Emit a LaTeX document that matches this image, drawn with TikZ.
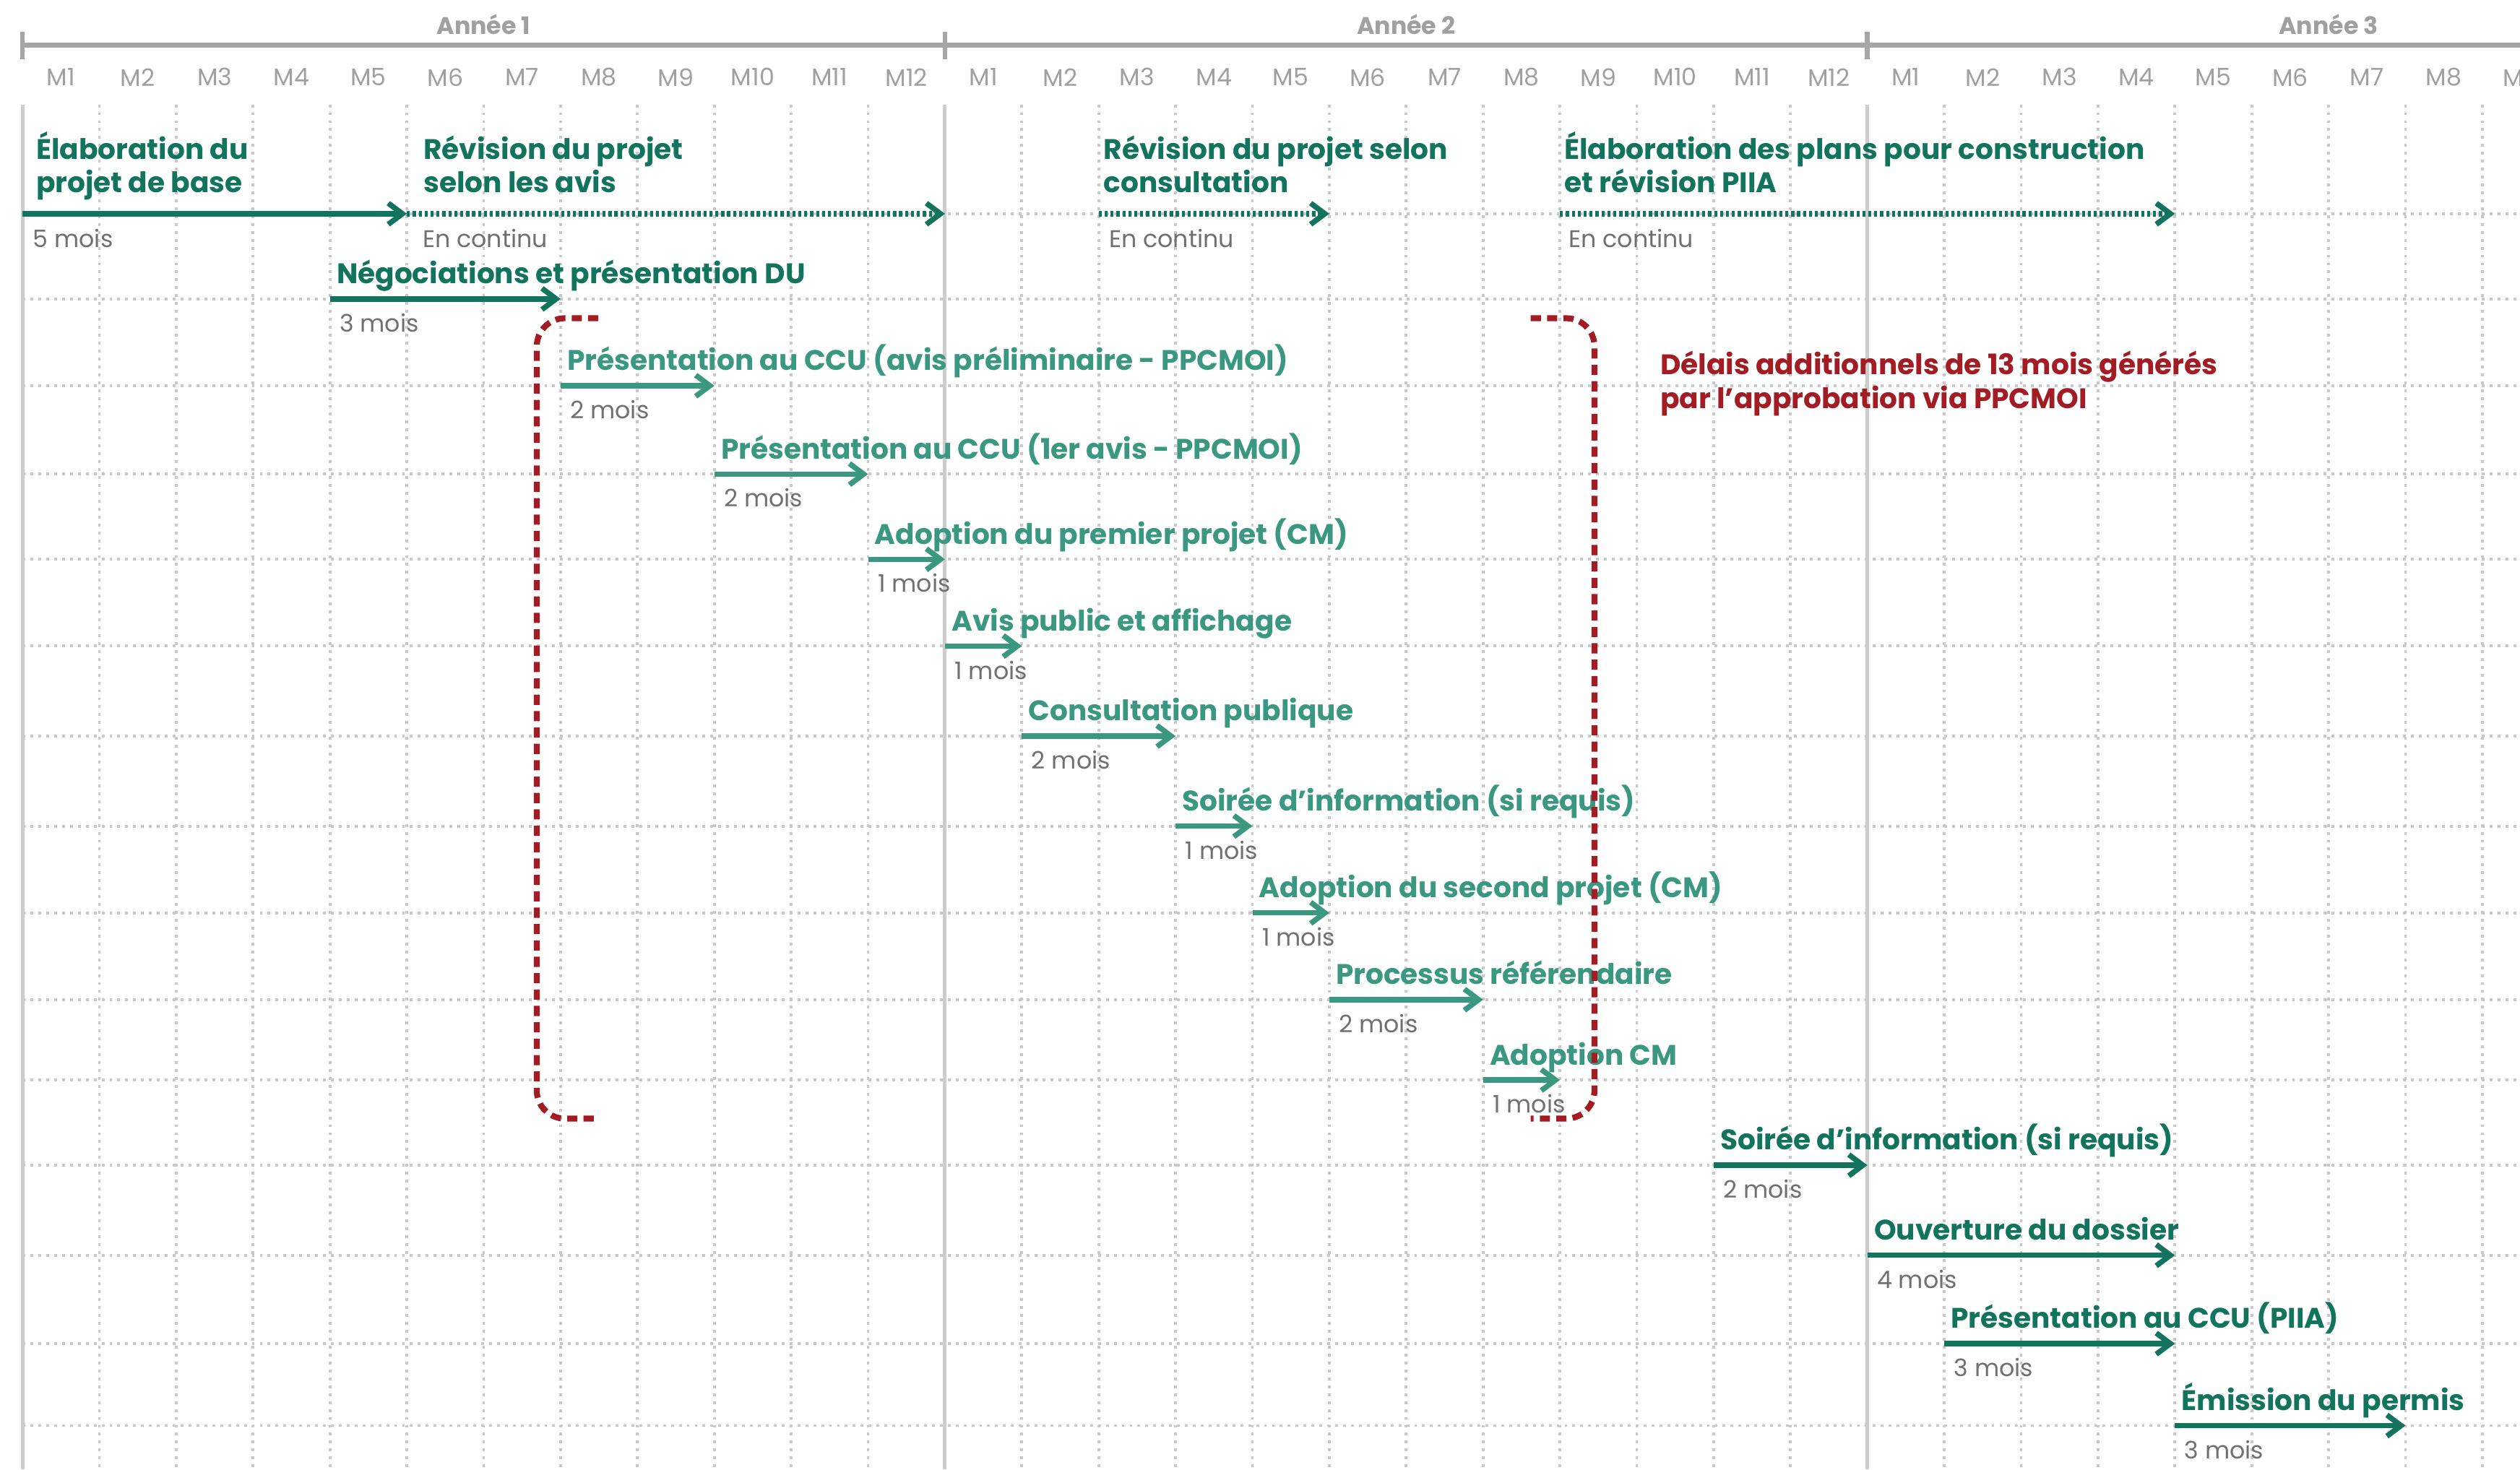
\documentclass[tikz,border=0pt]{standalone}
\usepackage{fontspec}
\setmainfont{Poppins}
\usetikzlibrary{arrows.meta}

\definecolor{vertfonce}{HTML}{13745E}
\definecolor{vertclair}{HTML}{3A9880}
\definecolor{rougebordeaux}{HTML}{A31C24}
\definecolor{grisaxe}{HTML}{A6A6A6}
\definecolor{grismois}{HTML}{A0A0A0}
\definecolor{gristexte}{HTML}{707070}
\definecolor{grisgrille}{HTML}{C8C8C8}
\definecolor{grisannee}{HTML}{CDCDCD}

\begin{document}
\begin{tikzpicture}[x=0.9566cm, y=-0.02cm,
    fleche/.style={line width=1.9pt, -{Straight Barb[length=5pt,width=7.5pt]}},
    continu/.style={fleche, dash pattern=on 1.1pt off 1pt},
    etiquette/.style={anchor=base west, inner sep=0pt, align=left,
      font=\bfseries\fontsize{10}{11.9}\selectfont},
    duree/.style={anchor=base west, inner sep=0pt, text=gristexte,
      font=\fontsize{8.5}{10}\selectfont},
    mois/.style={text=grismois, font=\fontsize{8.5}{10}\selectfont},
    annee/.style={text=grismois, font=\bfseries\fontsize{8.5}{10}\selectfont},
    axe/.style={grisaxe, line width=1.7pt},
    pointille/.style={grisgrille, line width=1pt, dash pattern=on 1pt off 1.8pt},
    anneeligne/.style={grisannee, line width=1.3pt},
    delai/.style={rougebordeaux, line width=2.1pt, dash pattern=on 3.6pt off 2.2pt,
      rounded corners=10pt}]
    % Cadre
    \def\gauche{-0.2927}
    \def\droite{32.49}
    \def\bas{914.4}
    \fill[white] (\gauche,0) rectangle (\droite,\bas);
    \useasboundingbox (\gauche,0) rectangle (\droite,\bas);

    % Grille des mois
    \foreach \m in {1,...,32}
        \draw[pointille] (\m,65) -- (\m,\bas);
    \foreach \y in {133,186,240,295,348,402,458,514,568,622,672,725,781,836,887}
        \draw[pointille] (0,\y) -- (\droite,\y);
    \foreach \a in {0,12,24}
        \draw[anneeligne] (\a,65) -- (\a,\bas);

    % Années
    \draw[axe] (0,28) -- (\droite,28);
    \foreach \a/\k in {0/1,12/2,24/3} {
        \draw[axe] (\a,20) -- (\a,37);
        \node[annee] (an\k) at (\a+6,15) {Année \k};
    }
    \foreach \m in {0,...,32} {
        \pgfmathtruncatemacro{\num}{mod(\m,12)+1}
        \node[mois] (m\m) at (\m+0.5,48) {M\num};
    }

    % Première rangée
    \foreach \n/\d/\f/\st/\xt/\xd/\txt/\dur in {
        a/0/5/fleche/0.17/0.13/{Élaboration du\\projet de base}/5 mois,
        b/5/12/continu/0.21/0.2/{Révision du projet\\selon les avis}/En continu,
        c/14/17/continu/0.06/0.13/{Révision du projet selon\\consultation}/En continu,
        d/20/28/continu/0.05/0.11/{Élaboration des plans pour construction\\et révision PIIA}/En continu} {
        \coordinate (s\n) at (\d,133);
        \coordinate (e\n) at (\f,133);
        \draw[\st, vertfonce] (s\n) -- (e\n);
        \node[etiquette, text=vertfonce] (t\n) at (\d+\xt,120) {\txt};
        \node[duree] (d\n) at (\d+\xd,154) {\dur};
    }

    % Étapes
    \foreach \n/\d/\f/\y/\c/\txt/\dur in {
        1/4/7/186/vertfonce/{Négociations et présentation DU}/3 mois,
        2/7/9/240/vertclair/{Présentation au CCU (avis préliminaire - PPCMOI)}/2 mois,
        3/9/11/295/vertclair/{Présentation au CCU (1er avis - PPCMOI)}/2 mois,
        4/11/12/348/vertclair/{Adoption du premier projet (CM)}/1 mois,
        5/12/13/402/vertclair/{Avis public et affichage}/1 mois,
        6/13/15/458/vertclair/{Consultation publique}/2 mois,
        7/15/16/514/vertclair/{Soirée d’information (si requis)}/1 mois,
        8/16/17/568/vertclair/{Adoption du second projet (CM)}/1 mois,
        9/17/19/622/vertclair/{Processus référendaire}/2 mois,
        10/19/20/672/vertclair/{Adoption CM}/1 mois,
        11/22/24/725/vertfonce/{Soirée d’information (si requis)}/2 mois,
        12/24/28/781/vertfonce/{Ouverture du dossier}/4 mois,
        13/25/28/836/vertfonce/{Présentation au CCU (PIIA)}/3 mois,
        14/28/31/887/vertfonce/{Émission du permis}/3 mois} {
        \coordinate (s\n) at (\d,\y);
        \coordinate (e\n) at (\f,\y);
        \draw[fleche, \c] (s\n) -- (e\n);
        \node[etiquette, text=\c] (t\n) at (\d+0.08,\y-9.5) {\txt};
        \node[duree] (d\n) at (\d+0.12,\y+20.5) {\dur};
    }

    % Délais PPCMOI
    \draw[delai] (7.49,198) -- (6.69,198) -- (6.69,696) -- (7.49,696);
    \draw[delai] (19.62,198) -- (20.45,198) -- (20.45,696) -- (19.62,696);
    \node[etiquette, text=rougebordeaux] (note) at (21.3,254)
        {Délais additionnels de 13 mois générés\\par l’approbation via PPCMOI};
\end{tikzpicture}
\end{document}
